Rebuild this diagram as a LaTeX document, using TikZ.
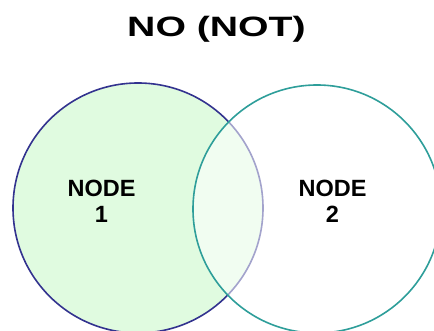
\documentclass[tikz,border=0pt]{standalone}
\usepackage{fontspec}
\setmainfont{Liberation Sans}
\definecolor{navyline}{HTML}{33338F}
\definecolor{tealline}{HTML}{2E9E9A}
\definecolor{lightgreen}{HTML}{E0FBE0}
\begin{document}
\begin{tikzpicture}[x=1pt,y=-1pt,
  setcircle/.style={circle,minimum size=#1,inner sep=0pt,line width=1.6pt},
  label/.style={font=\fontsize{23.5}{26}\selectfont\bfseries,align=center,inner sep=0pt,anchor=base}]
\useasboundingbox (0,0) rectangle (434,331);
\node[setcircle=250pt,draw=navyline,fill=lightgreen] (s1) at (138,208) {};
\node[setcircle=248pt,draw=tealline,fill=white,fill opacity=0.55,draw opacity=1] (s2) at (317,209) {};
\node[label] (t1) at (101.5,223) {NODE\\1};
\node[label] (t2) at (332.5,223) {NODE\\2};
\node[inner sep=0pt,anchor=base] (title) at (216.5,37) {\scalebox{1.4}[1]{\fontsize{28}{28}\selectfont\bfseries NO (NOT)}};
\end{tikzpicture}
\end{document}
